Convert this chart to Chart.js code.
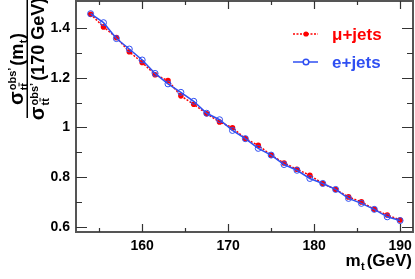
<!DOCTYPE html>
<html>
<head>
<meta charset="utf-8">
<script src="https://cdn.jsdelivr.net/npm/chart.js@4/dist/chart.umd.min.js"></script>
<style>
  html, body { margin: 0; padding: 0; background: #fff; }
  #wrap { width: 415px; height: 279px; position: relative; }
</style>
</head>
<body>
<div id="wrap"><canvas id="chart"></canvas></div>
<script>
// top mass points (GeV)
const massPoints = [154, 155.5, 157, 158.5, 160, 161.5, 163, 164.5, 166, 167.5, 169, 170.5, 172,
  173.5, 175, 176.5, 178, 179.5, 181, 182.5, 184, 185.5, 187, 188.5, 190];
// sigma_obs'(m_t) / sigma_obs'(170 GeV)
const muJets = [1.455, 1.404, 1.361, 1.304, 1.261, 1.212, 1.188, 1.127, 1.093, 1.055, 1.022, 0.999, 0.955,
  0.928, 0.889, 0.857, 0.832, 0.808, 0.775, 0.751, 0.721, 0.701, 0.671, 0.648, 0.628];
const eJets = [1.457, 1.421, 1.357, 1.315, 1.271, 1.217, 1.175, 1.141, 1.105, 1.057, 1.031, 0.988, 0.955,
  0.916, 0.889, 0.851, 0.828, 0.795, 0.775, 0.751, 0.715, 0.695, 0.671, 0.641, 0.626];
const xMajor = [160, 170, 180, 190];
const xMinor = [155, 165, 175, 185];
const yMajor = [0.6, 0.8, 1, 1.2, 1.4];
const yMinor = [0.7, 0.9, 1.1, 1.3];

const RED = '#ff0000';
const BLUE = '#2f4ff2';
const AXIS = '#555555';
const FONT = '"Liberation Sans", Arial, Helvetica, sans-serif';

function pts(ys) {
  return massPoints.map((m, i) => ({ x: m, y: ys[i] }));
}

// draws a run of text pieces: main text, or sup/sub stacked at the same spot
function drawPieces(ctx, pieces, measureOnly) {
  let u = 0;
  for (const p of pieces) {
    ctx.font = 'bold ' + p.size + 'px ' + FONT;
    if (p.main !== undefined) {
      if (!measureOnly) ctx.fillText(p.main, u, 0);
      u += ctx.measureText(p.main).width + (p.gap || 0);
    } else {
      let w = 0;
      if (p.sup) {
        if (!measureOnly) ctx.fillText(p.sup, u, -p.up);
        w = Math.max(w, ctx.measureText(p.sup).width);
      }
      if (p.sub) {
        if (!measureOnly) ctx.fillText(p.sub, u, p.down);
        if (p.bar && !measureOnly) {
          // bar over the second t
          const tw = ctx.measureText('t').width;
          ctx.fillRect(u + tw + 0.3, p.down - p.size * 0.86, tw, 1);
        }
        w = Math.max(w, ctx.measureText(p.sub).width);
      }
      u += w + (p.gap || 0);
    }
  }
  return u;
}

const decorations = {
  id: 'decorations',
  afterDraw(chart) {
    const ctx = chart.ctx;
    const a = chart.chartArea;
    const xs = chart.scales.x, ys = chart.scales.y;
    ctx.save();
    // frame top / right
    ctx.strokeStyle = AXIS;
    ctx.lineWidth = 2;
    ctx.beginPath();
    ctx.moveTo(a.left, a.top);
    ctx.lineTo(a.right, a.top);
    ctx.lineTo(a.right, a.bottom);
    ctx.stroke();
    // ticks, drawn inward
    ctx.lineWidth = 1.2;
    ctx.strokeStyle = '#333';
    ctx.beginPath();
    xMajor.concat(xMinor).forEach(v => {
      const len = xMajor.includes(v) ? 8 : 4;
      const px = Math.round(xs.getPixelForValue(v)) + 0.5;
      ctx.moveTo(px, a.bottom); ctx.lineTo(px, a.bottom - len);
      ctx.moveTo(px, a.top); ctx.lineTo(px, a.top + len);
    });
    yMajor.concat(yMinor).forEach(v => {
      const len = yMajor.includes(v) ? 11 : 6;
      const py = Math.round(ys.getPixelForValue(v)) + 0.5;
      ctx.moveTo(a.left, py); ctx.lineTo(a.left + len, py);
      ctx.moveTo(a.right, py); ctx.lineTo(a.right - len, py);
    });
    ctx.stroke();

    // legend
    ctx.strokeStyle = RED;
    ctx.lineWidth = 1.5;
    ctx.setLineDash([2, 1.5]);
    ctx.beginPath(); ctx.moveTo(293, 34); ctx.lineTo(318, 34); ctx.stroke();
    ctx.setLineDash([]);
    ctx.fillStyle = RED;
    ctx.beginPath(); ctx.arc(306, 34, 2.6, 0, Math.PI * 2); ctx.fill();
    ctx.strokeStyle = BLUE;
    ctx.beginPath(); ctx.moveTo(293, 62); ctx.lineTo(318, 62); ctx.stroke();
    ctx.fillStyle = '#fff';
    ctx.beginPath(); ctx.arc(306, 62, 2.8, 0, Math.PI * 2); ctx.fill(); ctx.stroke();
    ctx.font = 'bold 17px ' + FONT;
    ctx.textBaseline = 'alphabetic';
    ctx.textAlign = 'left';
    ctx.fillStyle = RED;
    ctx.fillText('\u03bc+jets', 332, 40);
    ctx.fillStyle = BLUE;
    ctx.fillText('e+jets', 332, 68);

    // x title: m_t (GeV), right aligned
    ctx.fillStyle = '#000';
    const xt = [
      { main: 'm', size: 17, gap: 0.5 },
      { sub: 't', size: 11, down: 4, gap: 2 },
      { main: '(GeV)', size: 17 }
    ];
    const xw = drawPieces(ctx, xt, true);
    ctx.save();
    ctx.translate(412 - xw, 266);
    drawPieces(ctx, xt, false);
    ctx.restore();

    // y title: fraction, rotated
    const num = [
      { main: '\u03c3', size: 20, gap: 1 },
      { sup: 'obs\u2019', sub: 'tt', bar: true, size: 11, up: 7, down: 5, gap: 2 },
      { main: '(m', size: 18, gap: 0.5 },
      { sub: 't', size: 11, down: 4, gap: 0.5 },
      { main: ')', size: 18 }
    ];
    const den = [
      { main: '\u03c3', size: 20, gap: 1 },
      { sup: 'obs\u2019', sub: 'tt', bar: true, size: 11, up: 6, down: 5, gap: 2 },
      { main: '(170 GeV)', size: 18 }
    ];
    const nw = drawPieces(ctx, num, true);
    const dw = drawPieces(ctx, den, true);
    ctx.save();
    ctx.translate(23, 69 + nw / 2);
    ctx.rotate(-Math.PI / 2);
    drawPieces(ctx, num, false);
    ctx.restore();
    ctx.save();
    ctx.translate(44, 59 + dw / 2);
    ctx.rotate(-Math.PI / 2);
    drawPieces(ctx, den, false);
    ctx.restore();
    ctx.fillRect(26.5, 0, 1.5, 118);
    ctx.restore();
  }
};

new Chart(document.getElementById('chart'), {
  type: 'line',
  data: {
    datasets: [
      {
        label: 'e+jets',
        data: pts(eJets),
        borderColor: BLUE,
        borderWidth: 1.5,
        backgroundColor: 'rgba(0,0,0,0)',
        pointRadius: 3,
        pointBorderWidth: 1,
        pointBorderColor: BLUE,
        pointBackgroundColor: 'rgba(0,0,0,0)',
        tension: 0,
        order: 0
      },
      {
        label: '\u03bc+jets',
        data: pts(muJets),
        borderColor: RED,
        borderWidth: 1.5,
        borderDash: [2, 1.5],
        pointRadius: 2.8,
        pointBorderWidth: 0,
        pointBackgroundColor: RED,
        tension: 0,
        order: 1
      }
    ]
  },
  options: {
    responsive: true,
    maintainAspectRatio: false,
    animation: false,
    layout: { autoPadding: false, padding: { top: 1, right: 2, left: 0, bottom: 0 } },
    plugins: { legend: { display: false }, tooltip: { enabled: false } },
    scales: {
      x: {
        type: 'linear',
        min: 152.3,
        max: 191.5,
        afterBuildTicks: s => { s.ticks = xMajor.map(v => ({ value: v })); },
        afterFit: s => { s.height = 47; s.paddingLeft = 0; s.paddingRight = 0; },
        grid: { display: false, drawTicks: false },
        border: { display: true, color: AXIS, width: 2 },
        ticks: {
          color: '#000',
          padding: 6,
          maxRotation: 0,
          font: { family: FONT, size: 14, weight: 'bold' },
          callback: v => String(v)
        }
      },
      y: {
        min: 0.58,
        max: 1.508,
        afterBuildTicks: s => { s.ticks = yMajor.map(v => ({ value: v })); },
        afterFit: s => { s.width = 76; s.paddingTop = 0; s.paddingBottom = 0; },
        grid: { display: false, drawTicks: false },
        border: { display: true, color: AXIS, width: 2 },
        ticks: {
          color: '#000',
          padding: 6,
          font: { family: FONT, size: 14, weight: 'bold' },
          callback: v => String(Math.round(v * 10) / 10)
        }
      }
    }
  },
  plugins: [decorations]
});
</script>
</body>
</html>
